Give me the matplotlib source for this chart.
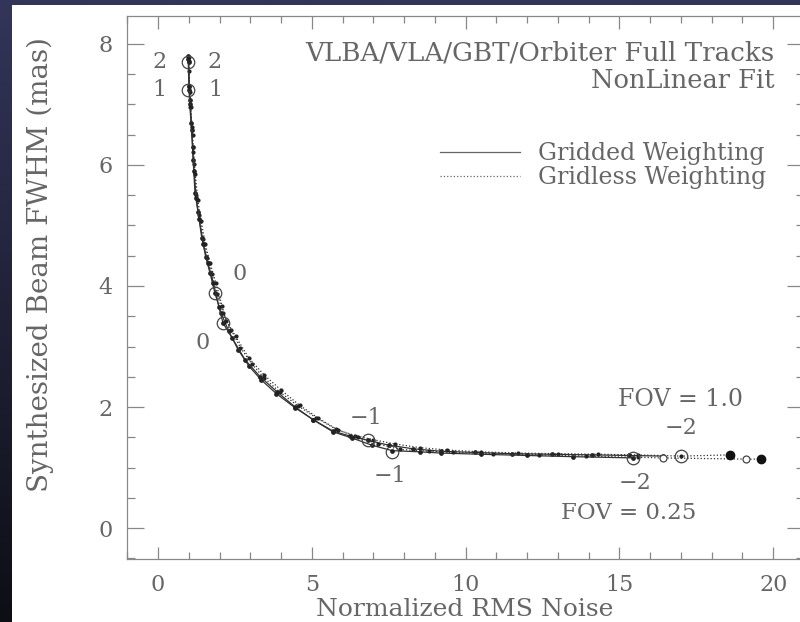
# Beam size vs noise, robust weighting sweep

import numpy as np
import matplotlib
matplotlib.use("Agg")
import matplotlib.pyplot as plt
from matplotlib.colors import LinearSegmentedColormap
from matplotlib.patches import Rectangle
from matplotlib.ticker import MultipleLocator

# FOV = 1.0, gridded weighting (solid)
fov1_grid_x = [0.98, 1.00, 1.02, 1.04, 1.10, 1.14, 1.20, 1.30, 1.42, 1.55, 1.69, 1.85, 2.05, 2.30,
               2.60, 2.95, 3.35, 3.85, 4.45, 5.05, 5.70, 6.25, 6.83, 7.50, 8.30, 9.20, 10.30, 11.50,
               12.80, 14.10, 15.30, 16.40]
fov1_grid_y = [7.80, 7.70, 7.24, 7.07, 6.58, 6.08, 5.54, 5.22, 4.80, 4.48, 4.21, 3.88, 3.55, 3.25,
               2.95, 2.68, 2.45, 2.22, 1.99, 1.79, 1.60, 1.52, 1.45, 1.37, 1.31, 1.27, 1.25, 1.23,
               1.22, 1.21, 1.20, 1.19]
# FOV = 1.0, gridless weighting (dotted)
fov1_gl_x = [0.99, 1.01, 1.03, 1.06, 1.12, 1.17, 1.24, 1.34, 1.46, 1.60, 1.75, 1.92, 2.12, 2.38,
             2.68, 3.05, 3.45, 3.95, 4.55, 5.15, 5.80, 6.40, 7.00, 7.70, 8.50, 9.40, 10.50, 11.70,
             13.00, 14.30, 15.60, 17.00, 18.60]
fov1_gl_y = [7.78, 7.55, 7.20, 6.95, 6.50, 6.02, 5.50, 5.18, 4.78, 4.47, 4.20, 3.87, 3.55, 3.27,
             2.98, 2.71, 2.48, 2.25, 2.02, 1.82, 1.63, 1.53, 1.46, 1.39, 1.33, 1.29, 1.26, 1.24,
             1.23, 1.22, 1.21, 1.19, 1.21]
# FOV = 0.25, gridded weighting (solid)
fov025_grid_x = [0.98, 1.00, 1.03, 1.07, 1.12, 1.17, 1.24, 1.34, 1.47, 1.62, 1.80, 1.98, 2.11, 2.41,
                 2.83, 3.32, 3.87, 4.46, 5.04, 5.69, 6.30, 6.95, 7.61, 8.52, 9.20, 10.50, 12.00,
                 13.50, 15.45]
fov025_grid_y = [7.75, 7.30, 7.00, 6.70, 6.30, 5.90, 5.45, 5.10, 4.70, 4.38, 4.05, 3.65, 3.39, 3.14,
                 2.78, 2.50, 2.25, 2.00, 1.79, 1.59, 1.49, 1.37, 1.28, 1.26, 1.24, 1.22, 1.20,
                 1.18, 1.16]
# FOV = 0.25, gridless weighting (dotted)
fov025_gl_x = [0.99, 1.02, 1.05, 1.09, 1.15, 1.21, 1.29, 1.40, 1.53, 1.69, 1.88, 2.08, 2.22, 2.52,
               2.95, 3.45, 4.00, 4.60, 5.20, 5.85, 6.50, 7.15, 7.85, 8.80, 9.60, 10.90, 12.40,
               13.90, 15.60, 16.40, 19.10, 19.60]
fov025_gl_y = [7.72, 7.28, 6.95, 6.62, 6.22, 5.85, 5.42, 5.08, 4.70, 4.38, 4.05, 3.67, 3.42, 3.17,
               2.81, 2.53, 2.28, 2.03, 1.82, 1.62, 1.50, 1.39, 1.30, 1.27, 1.25, 1.23, 1.21,
               1.19, 1.17, 1.16, 1.14, 1.14]

# robustness markers
robust_x = [0.98, 0.98, 1.85, 2.11, 6.83, 7.61, 15.45, 17.00]
robust_y = [7.70, 7.24, 3.88, 3.39, 1.45, 1.26, 1.16, 1.19]
end_filled_x = [18.60, 19.60]
end_filled_y = [1.21, 1.14]
end_open_x = [16.40, 19.10]
end_open_y = [1.16, 1.14]

# labels: (text, x, y)
robust_labels = [("2", 0.05, 7.70), ("2", 1.85, 7.70), ("1", 0.05, 7.24), ("1", 1.85, 7.24),
                 ("0", 2.65, 4.20), ("0", 1.45, 3.05), ("\u22121", 6.75, 1.82), ("\u22121", 7.55, 0.86),
                 ("\u22122", 17.0, 1.65), ("\u22122", 15.5, 0.74)]

TXT = "#666666"
LN = "#333333"
plt.rcParams['font.family'] = ['DejaVu Serif']

fig = plt.figure(figsize=(8, 6.22), dpi=100)

# dark backdrop with white panel
bg = fig.add_axes([0, 0, 1, 1], zorder=0)
cmap = LinearSegmentedColormap.from_list("bg", ["#0e0e15", "#33355a"])
bg.imshow(np.linspace(0, 1, 256).reshape(-1, 1), cmap=cmap, aspect='auto',
          origin='lower', extent=[0, 1, 0, 1])
bg.add_patch(Rectangle((12 / 800, 0), 1, 617 / 622, facecolor='white', edgecolor='none'))
bg.set_xlim(0, 1)
bg.set_ylim(0, 1)
bg.axis('off')

ax = fig.add_axes([127 / 800, 63 / 622, 677 / 800, 543 / 622], zorder=2)
ax.set_facecolor('white')

ax.plot(fov1_grid_x, fov1_grid_y, '-', color=LN, lw=0.9, marker='o', ms=2.4, mfc='#222', mec='#222',
        label='Gridded Weighting')
ax.plot(fov1_gl_x, fov1_gl_y, ':', color=LN, lw=0.9, marker='o', ms=2.0, mfc='#222', mec='#222',
        label='Gridless Weighting')
ax.plot(fov025_grid_x, fov025_grid_y, '-', color=LN, lw=0.9, marker='o', ms=2.4, mfc='#222', mec='#222')
ax.plot(fov025_gl_x, fov025_gl_y, ':', color=LN, lw=0.9, marker='o', ms=2.0, mfc='#222', mec='#222')
ax.plot(robust_x, robust_y, 'o', ms=9, mfc='none', mec='#444', mew=0.9)
ax.plot(end_filled_x, end_filled_y, 'o', ms=6, color='#111')
ax.plot(end_open_x, end_open_y, 'o', ms=5, mfc='white', mec='#444', mew=0.9)

for t, x, y in robust_labels:
    ax.text(x, y, t, fontsize=16, color=TXT, ha='center', va='center')

ax.text(20.05, 7.85, "VLBA/VLA/GBT/Orbiter Full Tracks", fontsize=18.8, color=TXT, ha='right', va='center')
ax.text(20.05, 7.39, "NonLinear Fit", fontsize=18.5, color=TXT, ha='right', va='center')
ax.text(17.0, 2.13, "FOV = 1.0", fontsize=17, color=TXT, ha='center', va='center')
ax.text(15.3, 0.25, "FOV = 0.25", fontsize=16.5, color=TXT, ha='center', va='center')

leg = ax.legend(loc='upper left', bbox_to_anchor=(0.462, 0.768), frameon=False, fontsize=17,
                handlelength=3.4, handletextpad=0.75, labelspacing=0.06, borderpad=0,
                borderaxespad=0, markerscale=0)
for t in leg.get_texts():
    t.set_color(TXT)
for h in leg.get_lines():
    h.set_marker('')
    h.set_color('#666')

ax.set_xlim(-1.01, 21.0)
ax.set_ylim(-0.51, 8.46)
ax.xaxis.set_major_locator(MultipleLocator(5))
ax.xaxis.set_minor_locator(MultipleLocator(1))
ax.yaxis.set_major_locator(MultipleLocator(2))
ax.yaxis.set_minor_locator(MultipleLocator(0.5))
ax.tick_params(which='both', direction='in', top=True, right=True, colors='#888',
               labelcolor=TXT, width=0.9, labelsize=16, pad=10.5)
ax.tick_params(axis='x', which='major', length=9)
ax.tick_params(axis='x', which='minor', length=4.7)
ax.tick_params(axis='y', which='major', length=12)
ax.tick_params(axis='y', which='minor', length=5.8)
for s in ax.spines.values():
    s.set_color('#888')
    s.set_linewidth(0.9)

fig.text(465 / 800, (622 - 616) / 622, "Normalized RMS Noise", fontsize=18, color=TXT,
         ha='center', va='baseline')
fig.text(40 / 800, (622 - 264) / 622, "Synthesized Beam FWHM (mas)", fontsize=20, color=TXT,
         ha='center', va='center', rotation=90)

fig.savefig("out.png", dpi=100)
